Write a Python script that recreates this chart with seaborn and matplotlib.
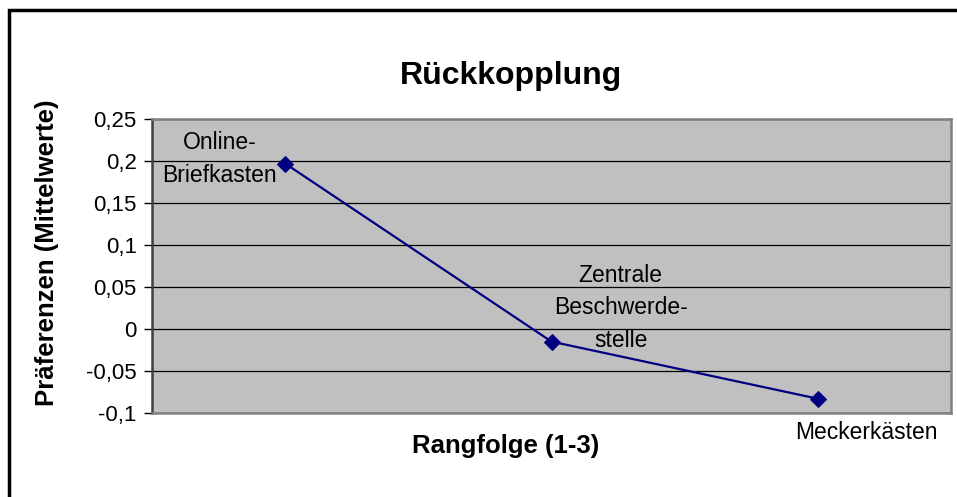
"""
Rückkopplung – Präferenzen (Mittelwerte) nach Rangfolge
"""

import matplotlib
matplotlib.use("Agg")
import matplotlib.pyplot as plt
import matplotlib.ticker as mticker
from matplotlib.patches import Rectangle
import seaborn as sns

# ── Data ─────────────────────────────────────────────────────────────────────
categories = ["Online-\nBriefkasten", "Zentrale\nBeschwerde-\nstelle", "Meckerkästen"]
values = [0.197, -0.015, -0.083]
y_ticks = [-0.1, -0.05, 0, 0.05, 0.1, 0.15, 0.2, 0.25]

# ── Style ────────────────────────────────────────────────────────────────────
sns.set_style("white")
plt.rcParams["font.family"] = ["Liberation Sans", "DejaVu Sans"]
plt.rcParams["text.color"] = "black"
plt.rcParams["ytick.color"] = "black"

NAVY = "#000080"
PLOT_BG = "#C0C0C0"

fig = plt.figure(figsize=(9.57, 4.97), dpi=100)
ax = fig.add_axes([152 / 957, 1 - 413 / 497, 799 / 957, 294 / 497])
ax.set_facecolor(PLOT_BG)

positions = list(range(len(categories)))
sns.lineplot(x=positions, y=values, ax=ax, color=NAVY, marker="D",
             markersize=8, markeredgecolor=NAVY, linewidth=1.6)

ax.set_xlim(-0.5, 2.5)
ax.set_ylim(-0.1, 0.25)
ax.set_yticks(y_ticks)
ax.yaxis.set_major_formatter(
    mticker.FuncFormatter(lambda v, _: f"{v:g}".replace(".", ",")))
ax.set_xticks([])
ax.tick_params(axis="y", labelsize=16, length=6, width=1, color="black",
               labelcolor="black", direction="out", left=True, pad=5)
ax.grid(axis="y", color="black", linewidth=0.9)
ax.set_axisbelow(True)
for side, sp in ax.spines.items():
    sp.set_color("#808080")
    sp.set_linewidth(1.8)
ax.spines["left"].set_color("#404040")

# data labels
label_pos = [(-0.245, 0.2025), (1.26, 0.025), (2.184, -0.1238)]
for text, (lx, ly) in zip(categories, label_pos):
    ax.text(lx, ly, text, ha="center", va="center", multialignment="center",
            fontsize=16.5, linespacing=1.55, color="black", clip_on=False)

ax.set_xlabel("")
ax.set_ylabel("")

fig.text(511 / 957, 1 - 76 / 497, "Rückkopplung", ha="center", va="center",
         fontsize=23, fontweight="bold", color="black")
fig.text(506 / 957, 1 - 446 / 497, "Rangfolge (1-3)", ha="center",
         va="center", fontsize=18.5, fontweight="bold", color="black")
fig.text(47 / 957, 1 - 253 / 497, "Präferenzen (Mittelwerte)", ha="center",
         va="center", rotation=90, fontsize=18.5, fontweight="bold",
         color="black")

# chart frame
fig.patches.append(Rectangle((9 / 957, -0.1), 1.2, 1 - 10 / 497 + 0.1,
                             transform=fig.transFigure, fill=False,
                             edgecolor="black", linewidth=2.5))

fig.savefig("out.png", dpi=100)
